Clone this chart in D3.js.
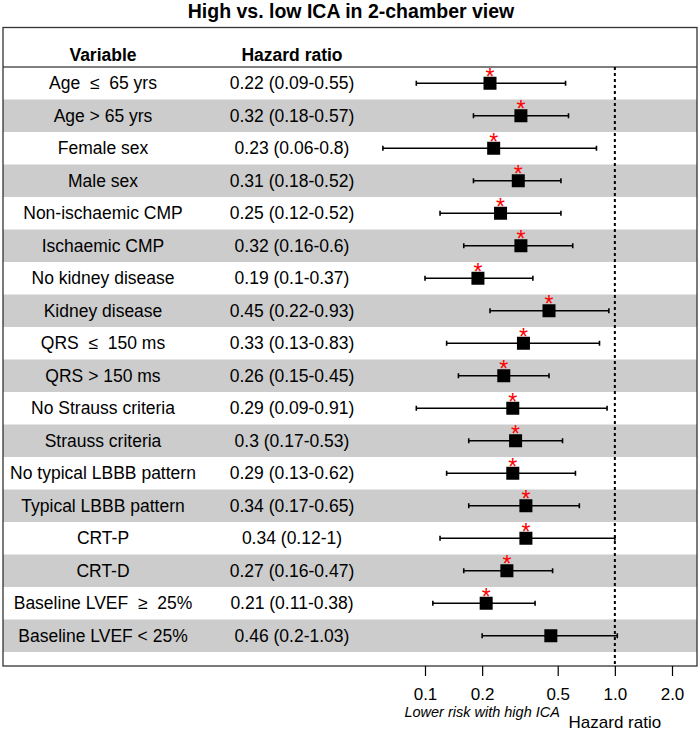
<!DOCTYPE html>
<html lang="en">
<head>
<meta charset="utf-8" />
<title>High vs. low ICA in 2-chamber view</title>
<style>
  body{margin:0;background:#fff;}
  svg{display:block;font-family:"Liberation Sans",Arial,sans-serif;}
  .lbl{font-size:17.5px;fill:#000;white-space:pre;}
  .hdr{font-size:17.5px;font-weight:bold;}
</style>
<script src="https://cdn.jsdelivr.net/npm/d3@7.9.0/dist/d3.min.js"></script>
</head>
<body>
<div id="chart"></div>
<script>
/* ───────── DATA ───────── */
const variables = [
  'Age  \u2264  65 yrs','Age > 65 yrs','Female sex','Male sex',
  'Non-ischaemic CMP','Ischaemic CMP','No kidney disease','Kidney disease',
  'QRS  \u2264  150 ms','QRS > 150 ms','No Strauss criteria','Strauss criteria',
  'No typical LBBB pattern','Typical LBBB pattern','CRT-P','CRT-D',
  'Baseline LVEF  \u2265  25%','Baseline LVEF < 25%'
];
const hr    = [0.22,0.32,0.23,0.31,0.25,0.32,0.19,0.45,0.33,0.26,0.29,0.3,0.29,0.34,0.34,0.27,0.21,0.46];
const lower = [0.09,0.18,0.06,0.18,0.12,0.16,0.1,0.22,0.13,0.15,0.09,0.17,0.13,0.17,0.12,0.16,0.11,0.2];
const upper = [0.55,0.57,0.8,0.52,0.52,0.6,0.37,0.93,0.83,0.45,0.91,0.53,0.62,0.65,1,0.47,0.38,1.03];
const signif = [1,1,1,1,1,1,1,1,1,1,1,1,1,1,1,1,1,0];
const xTicks = [0.1,0.2,0.5,1,2];
const tickLabels = ['0.1','0.2','0.5','1.0','2.0'];

/* ───────── LAYOUT ───────── */
const W = 700, H = 732;
const box = {l:3,r:697,t:27.5,b:666};
const headY = 67, rowsBottom = 652;
const colVar = 103, colHR = 292;
const SQ = 13;

const svg = d3.select('#chart').append('svg')
  .attr('width',W).attr('height',H).attr('viewBox',[0,0,W,H]);

const rows = variables.map((v,i)=>({v,hr:hr[i],lo:lower[i],hi:upper[i],sig:signif[i],i}));

const y = d3.scaleBand().domain(d3.range(rows.length)).range([headY,rowsBottom]).padding(0);
const x = d3.scaleLog().domain([0.1,2]).range([425,672]);
const cy = d=>y(d.i)+y.bandwidth()/2;

/* title */
svg.append('text').attr('x',351).attr('y',18).attr('text-anchor','middle')
  .style('font-size','19.5px').style('font-weight','bold').text('High vs. low ICA in 2-chamber view');

/* alternating bands */
svg.append('g').selectAll('rect').data(rows.filter(d=>d.i%2===1)).join('rect')
  .attr('x',box.l).attr('width',box.r-box.l)
  .attr('y',d=>y(d.i)).attr('height',y.bandwidth())
  .attr('fill','#cccccc');

/* header */
svg.append('text').attr('class','lbl hdr').attr('x',colVar).attr('y',61).attr('text-anchor','middle').text('Variable');
svg.append('text').attr('class','lbl hdr').attr('x',colHR).attr('y',61).attr('text-anchor','middle').text('Hazard ratio');
svg.append('line').attr('x1',box.l).attr('x2',box.r).attr('y1',headY).attr('y2',headY)
  .attr('stroke','#000').attr('stroke-width',1.2);

/* row text */
const rowG = svg.append('g');
rowG.selectAll('text.var').data(rows).join('text')
  .attr('class','lbl var').attr('x',colVar).attr('y',d=>cy(d)+6)
  .attr('text-anchor','middle').text(d=>d.v);
rowG.selectAll('text.hr').data(rows).join('text')
  .attr('class','lbl hr').attr('x',colHR).attr('y',d=>cy(d)+6)
  .attr('text-anchor','middle').text(d=>`${d.hr} (${d.lo}-${d.hi})`);

/* reference line at HR = 1 */
svg.append('line').attr('x1',x(1)).attr('x2',x(1)).attr('y1',headY).attr('y2',box.b)
  .attr('stroke','#000').attr('stroke-width',2).attr('stroke-dasharray','3,3');

/* CIs */
const ci = svg.append('g').attr('stroke','#000').attr('stroke-width',1.6);
ci.selectAll('line.ci').data(rows).join('line').attr('class','ci')
  .attr('x1',d=>x(d.lo)).attr('x2',d=>x(d.hi)).attr('y1',cy).attr('y2',cy);
ci.selectAll('line.capl').data(rows).join('line').attr('class','capl')
  .attr('x1',d=>x(d.lo)).attr('x2',d=>x(d.lo)).attr('y1',d=>cy(d)-2.5).attr('y2',d=>cy(d)+2.5);
ci.selectAll('line.caph').data(rows).join('line').attr('class','caph')
  .attr('x1',d=>x(d.hi)).attr('x2',d=>x(d.hi)).attr('y1',d=>cy(d)-2.5).attr('y2',d=>cy(d)+2.5);

/* squares */
svg.append('g').selectAll('rect').data(rows).join('rect')
  .attr('x',d=>x(d.hr)-SQ/2).attr('y',d=>cy(d)-SQ/2)
  .attr('width',SQ).attr('height',SQ).attr('fill','#000');

/* significance stars */
svg.append('g').selectAll('text').data(rows.filter(d=>d.sig)).join('text')
  .attr('x',d=>x(d.hr)).attr('y',d=>cy(d)+1.5)
  .attr('text-anchor','middle').attr('fill','#ff0000')
  .style('font-size','23px').text('*');

/* frame */
svg.append('rect').attr('x',box.l).attr('y',box.t).attr('width',box.r-box.l).attr('height',box.b-box.t)
  .attr('fill','none').attr('stroke','#333').attr('stroke-width',1.3);

/* x axis */
const axis = d3.axisBottom(x).tickValues(xTicks).tickSize(10).tickPadding(12)
  .tickFormat((d,i)=>tickLabels[i]);
const ax = svg.append('g').attr('transform',`translate(0,${box.b})`).call(axis);
ax.select('.domain').remove();
ax.selectAll('.tick line').attr('stroke','#000').attr('stroke-width',1.2);
ax.selectAll('.tick text').style('font-size','17px').style('font-family','"Liberation Sans",Arial,sans-serif');

svg.append('text').attr('x',x(0.2)).attr('y',717).attr('text-anchor','middle')
  .style('font-size','14.5px').style('font-style','italic').text('Lower risk with high ICA');
svg.append('text').attr('x',x(1)).attr('y',728).attr('text-anchor','middle')
  .style('font-size','17px').text('Hazard ratio');
</script>
</body>
</html>
